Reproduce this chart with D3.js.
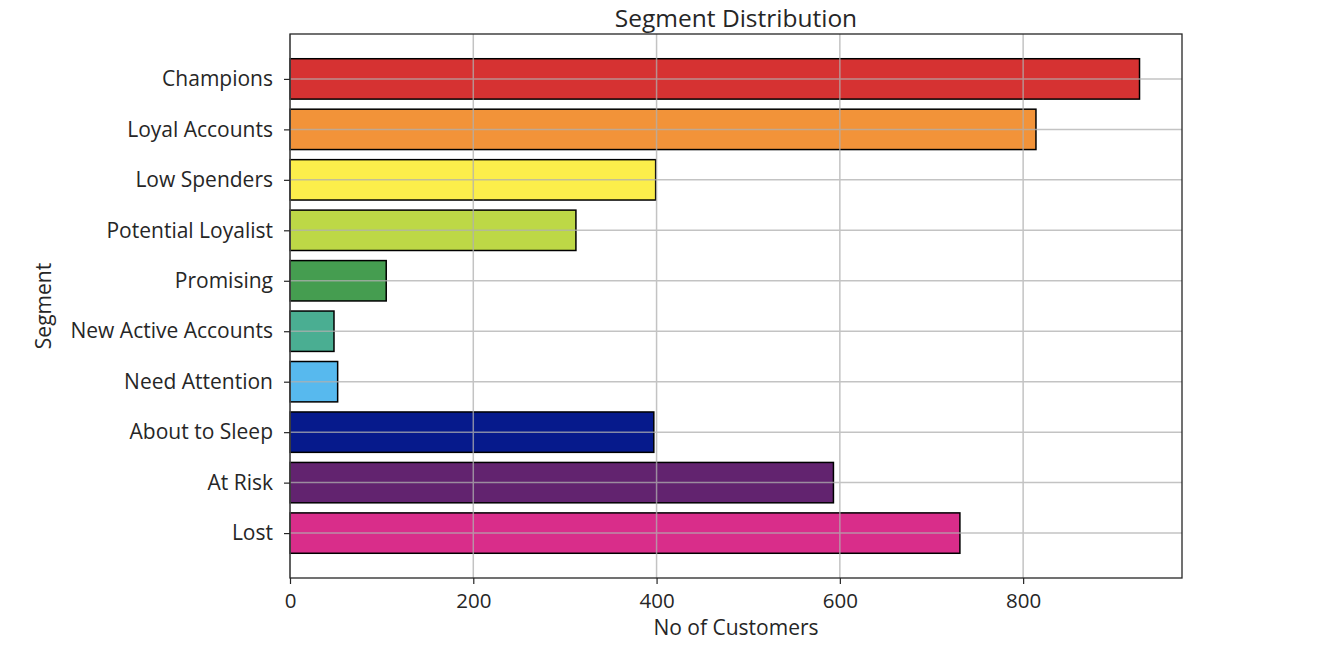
<!DOCTYPE html>
<html>
<head>
<meta charset="utf-8">
<script src="https://cdn.jsdelivr.net/npm/d3@7"></script>
<style>
  html, body { margin: 0; padding: 0; background: #fff; }
  text { font-family: "Open Sans", sans-serif; fill: #262626; }
</style>
</head>
<body>
<svg id="chart" width="1322" height="664"></svg>
<script>
const segments = ["Champions", "Loyal Accounts", "Low Spenders", "Potential Loyalist", "Promising",
  "New Active Accounts", "Need Attention", "About to Sleep", "At Risk", "Lost"];
const customers = [927, 814, 399, 312, 105, 48, 52, 397, 593, 731];
const colors = ["#d63232", "#f29339", "#fcee4b", "#bdd846", "#459d50",
  "#4aae92", "#57b9ee", "#061a8c", "#62236f", "#d92d8a"];
const xTicks = [0, 200, 400, 600, 800];
const title = "Segment Distribution";
const xLabel = "No of Customers";
const yLabel = "Segment";

const FONT = "'Open Sans', sans-serif";
const svg = d3.select("#chart");
const m = { left: 290, right: 1182, top: 34, bottom: 578 };
const W = m.right - m.left, H = m.bottom - m.top;

const xMax = d3.max(customers) * 1.05;
const x = d3.scaleLinear().domain([0, xMax]).range([m.left, m.right]);
// matplotlib-like categorical axis: bars of height 0.8, 5% margins
const n = segments.length;
const span = (n - 1) + 0.8;
const lo = -0.4 - 0.05 * span, hi = (n - 1) + 0.4 + 0.05 * span;
const yi = d3.scaleLinear().domain([lo, hi]).range([m.top, m.bottom]);

// bars
svg.append("g").selectAll("rect").data(segments).join("rect")
  .attr("x", x(0))
  .attr("y", (d, i) => yi(i - 0.4))
  .attr("width", (d, i) => x(customers[i]) - x(0))
  .attr("height", (d, i) => yi(i + 0.4) - yi(i - 0.4))
  .attr("fill", (d, i) => colors[i])
  .attr("stroke", "#000")
  .attr("stroke-width", 1.5);

// grid (drawn on top, semi-transparent)
const grid = svg.append("g").attr("stroke", "#b0b0b0").attr("stroke-width", 1.5).attr("opacity", 0.75);
grid.selectAll(".gx").data(xTicks).join("line")
  .attr("x1", d => x(d)).attr("x2", d => x(d))
  .attr("y1", m.top).attr("y2", m.bottom);
grid.selectAll(".gy").data(segments).join("line")
  .attr("x1", m.left).attr("x2", m.right)
  .attr("y1", (d, i) => yi(i)).attr("y2", (d, i) => yi(i));

// axes
const xAxis = d3.axisBottom(x).tickValues(xTicks).tickSize(6).tickPadding(9).tickFormat(d3.format("d"));
const gx = svg.append("g").attr("transform", `translate(0,${m.bottom})`).call(xAxis);
gx.select(".domain").remove();
gx.selectAll("line").attr("stroke", "#262626").attr("stroke-width", 1.2);
gx.selectAll("text").attr("font-size", 20.5).attr("fill", "#262626").style("font-family", FONT);

const yBand = d3.scalePoint().domain(segments).range([yi(0), yi(n - 1)]);
const yAxis = d3.axisLeft(yBand).tickSize(6).tickPadding(11);
const gy = svg.append("g").attr("transform", `translate(${m.left},0)`).call(yAxis);
gy.select(".domain").remove();
gy.selectAll("line").attr("stroke", "#262626").attr("stroke-width", 1.2);
gy.selectAll("text").attr("font-size", 21).attr("fill", "#262626").style("font-family", FONT);

// frame
svg.append("rect").attr("x", m.left).attr("y", m.top).attr("width", W).attr("height", H)
  .attr("fill", "none").attr("stroke", "#262626").attr("stroke-width", 1.3);

// labels
svg.append("text").attr("x", (m.left + m.right) / 2).attr("y", 26.5).attr("text-anchor", "middle")
  .attr("font-size", 24.5).text(title);
svg.append("text").attr("x", (m.left + m.right) / 2).attr("y", 635).attr("text-anchor", "middle")
  .attr("font-size", 21).text(xLabel);
svg.append("text").attr("transform", `translate(51,${(m.top + m.bottom) / 2}) rotate(-90)`)
  .attr("text-anchor", "middle").attr("font-size", 21).text(yLabel);
</script>
</body>
</html>
